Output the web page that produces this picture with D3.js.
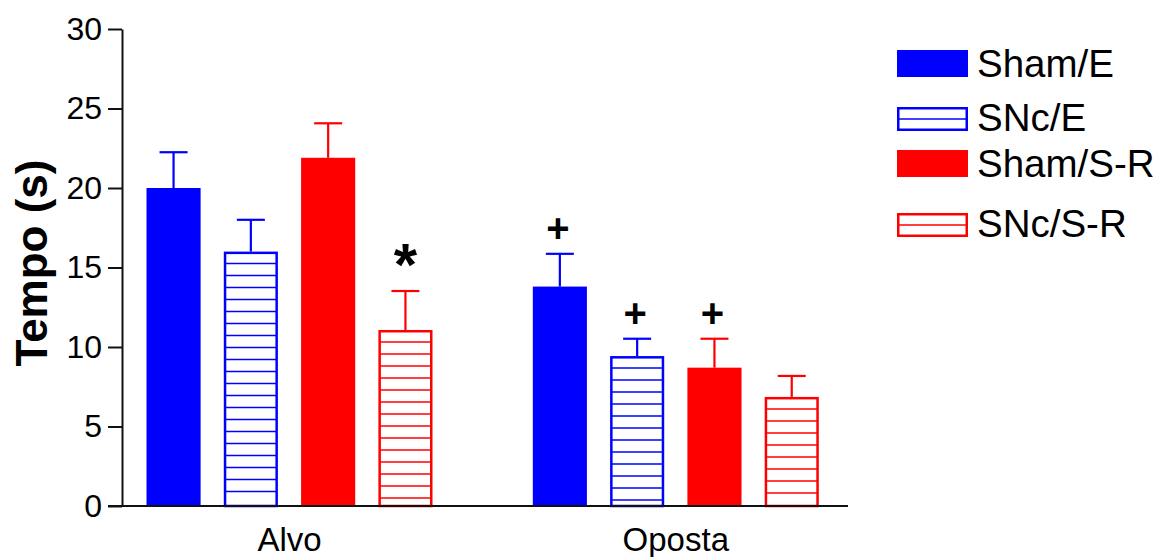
<!DOCTYPE html>
<html><head><meta charset="utf-8">
<script src="https://cdn.jsdelivr.net/npm/d3@7"></script>
<style>
html,body{margin:0;padding:0;background:#fff;}
svg{display:block;font-family:"Liberation Sans",Arial,Helvetica,sans-serif;}
</style></head>
<body><svg id="chart" width="1164" height="557"></svg>
<script>
// ---- data ----
const groups = ["Alvo", "Oposta"];
const series = ["Sham/E", "SNc/E", "Sham/S-R", "SNc/S-R"];
const seriesColors = ["#0000ff", "#0000ff", "#ff0000", "#ff0000"];
const seriesHatched = [false, true, false, true];
const shamE = [20.0, 13.8];
const sncE = [16.0, 9.43];
const shamSR = [21.9, 8.7];
const sncSR = [11.07, 6.86];
const shamE_err = [2.25, 2.06];
const sncE_err = [2.0, 1.09];
const shamSR_err = [2.17, 1.82];
const sncSR_err = [2.45, 1.32];
const yTicks = [0, 5, 10, 15, 20, 25, 30];
const marks = [
  {group: "Alvo", series: "SNc/S-R", text: "*"},
  {group: "Oposta", series: "Sham/E", text: "+"},
  {group: "Oposta", series: "SNc/E", text: "+"},
  {group: "Oposta", series: "Sham/S-R", text: "+"}
];
const yLabel = "Tempo (s)";

const means = [shamE, sncE, shamSR, sncSR];
const errs = [shamE_err, sncE_err, shamSR_err, sncSR_err];
const rows = [];
series.forEach((s, i) => groups.forEach((g, j) => rows.push({
  series: s, group: g, value: means[i][j], err: errs[i][j],
  color: seriesColors[i], hatched: seriesHatched[i]
})));

// ---- layout ----
const svg = d3.select("#chart");
const x0 = d3.scalePoint().domain(groups).range([289.5, 675.8]);
const x1 = d3.scaleBand().domain(series).range([-143, 143]).paddingInner(0.3);
const y = d3.scaleLinear().domain([0, 30]).range([506, 29]);
const axisX = 122;
const bw = x1.bandwidth();
const bx = d => x0(d.group) + x1(d.series);
const cx = d => bx(d) + bw / 2;

// bars
const bars = svg.append("g");
bars.selectAll("rect").data(rows).join("rect")
  .attr("x", d => d.hatched ? bx(d) + 1.25 : bx(d))
  .attr("y", d => d.hatched ? y(d.value) + 1.25 : y(d.value))
  .attr("width", d => d.hatched ? bw - 2.5 : bw)
  .attr("height", d => d.hatched ? y(0) - y(d.value) - 1.25 : y(0) - y(d.value))
  .attr("fill", d => d.hatched ? "#fff" : d.color)
  .attr("stroke", d => d.hatched ? d.color : "none")
  .attr("stroke-width", 2.5);

// hatch lines
rows.filter(d => d.hatched).forEach(d => {
  const top = y(d.value);
  const ys = d3.range(top + 12, y(0) - 3, 12);
  bars.append("g").selectAll("line").data(ys).join("line")
    .attr("x1", bx(d) + 1).attr("x2", bx(d) + bw - 1)
    .attr("y1", v => v).attr("y2", v => v)
    .attr("stroke", d.color).attr("stroke-width", 1.5);
});

// error bars
const eb = svg.append("g");
rows.forEach(d => {
  const g = eb.append("g").attr("stroke", d.color).attr("stroke-width", 2.2);
  g.append("line").attr("x1", cx(d)).attr("x2", cx(d))
    .attr("y1", y(d.value)).attr("y2", y(d.value + d.err));
  g.append("line").attr("x1", cx(d) - 14).attr("x2", cx(d) + 14)
    .attr("y1", y(d.value + d.err)).attr("y2", y(d.value + d.err));
});

// y axis
const yAxis = svg.append("g").attr("transform", `translate(${axisX},0)`)
  .call(d3.axisLeft(y).tickValues(yTicks).tickSize(14).tickPadding(6).tickSizeOuter(0));
yAxis.select(".domain").attr("stroke", "#111").attr("stroke-width", 2);
yAxis.selectAll(".tick line").attr("stroke", "#111").attr("stroke-width", 2);
yAxis.selectAll(".tick text").attr("font-size", 32).attr("fill", "#000")
  .attr("font-family", "Liberation Sans, Arial, sans-serif");

// x axis baseline
svg.append("line").attr("x1", 108).attr("x2", 848).attr("y1", y(0)).attr("y2", y(0))
  .attr("stroke", "#111").attr("stroke-width", 2);
svg.append("g").selectAll("text").data(groups).join("text")
  .attr("x", d => x0(d)).attr("y", 551).attr("text-anchor", "middle")
  .attr("font-size", 33).text(d => d);

// y label
svg.append("text").attr("transform", `translate(47,263) rotate(-90)`)
  .attr("text-anchor", "middle").attr("font-size", 44).attr("font-weight", "bold")
  .text(yLabel);

// significance marks
const rowOf = m => rows.find(r => r.group === m.group && r.series === m.series);
svg.append("g").selectAll("text").data(marks).join("text")
  .attr("x", m => cx(rowOf(m)) - (m.text === "+" ? 2 : 0))
  .attr("y", m => { const r = rowOf(m); return y(r.value + r.err) - (m.text === "+" ? 12 : 6); })
  .attr("text-anchor", "middle").attr("font-weight", "bold")
  .attr("font-size", m => m.text === "+" ? 40 : 60)
  .text(m => m.text);

// legend
const legY = [77, 131, 177, 237];
const leg = svg.append("g");
series.forEach((s, i) => {
  const g = leg.append("g").attr("transform", `translate(897,${legY[i]})`);
  if (seriesHatched[i]) {
    g.append("rect").attr("x", 1.25).attr("y", -24 + 1.25).attr("width", 71 - 2.5).attr("height", 24 - 2.5)
      .attr("fill", "#fff").attr("stroke", seriesColors[i]).attr("stroke-width", 2.5);
    g.append("line").attr("x1", 1).attr("x2", 70).attr("y1", -12).attr("y2", -12)
      .attr("stroke", seriesColors[i]).attr("stroke-width", 1.5);
  } else {
    g.append("rect").attr("x", 0).attr("y", -27).attr("width", 71).attr("height", 27)
      .attr("fill", seriesColors[i]);
  }
  g.append("text").attr("x", 80).attr("y", 0).attr("font-size", 38.5).text(s);
});
</script></body></html>
